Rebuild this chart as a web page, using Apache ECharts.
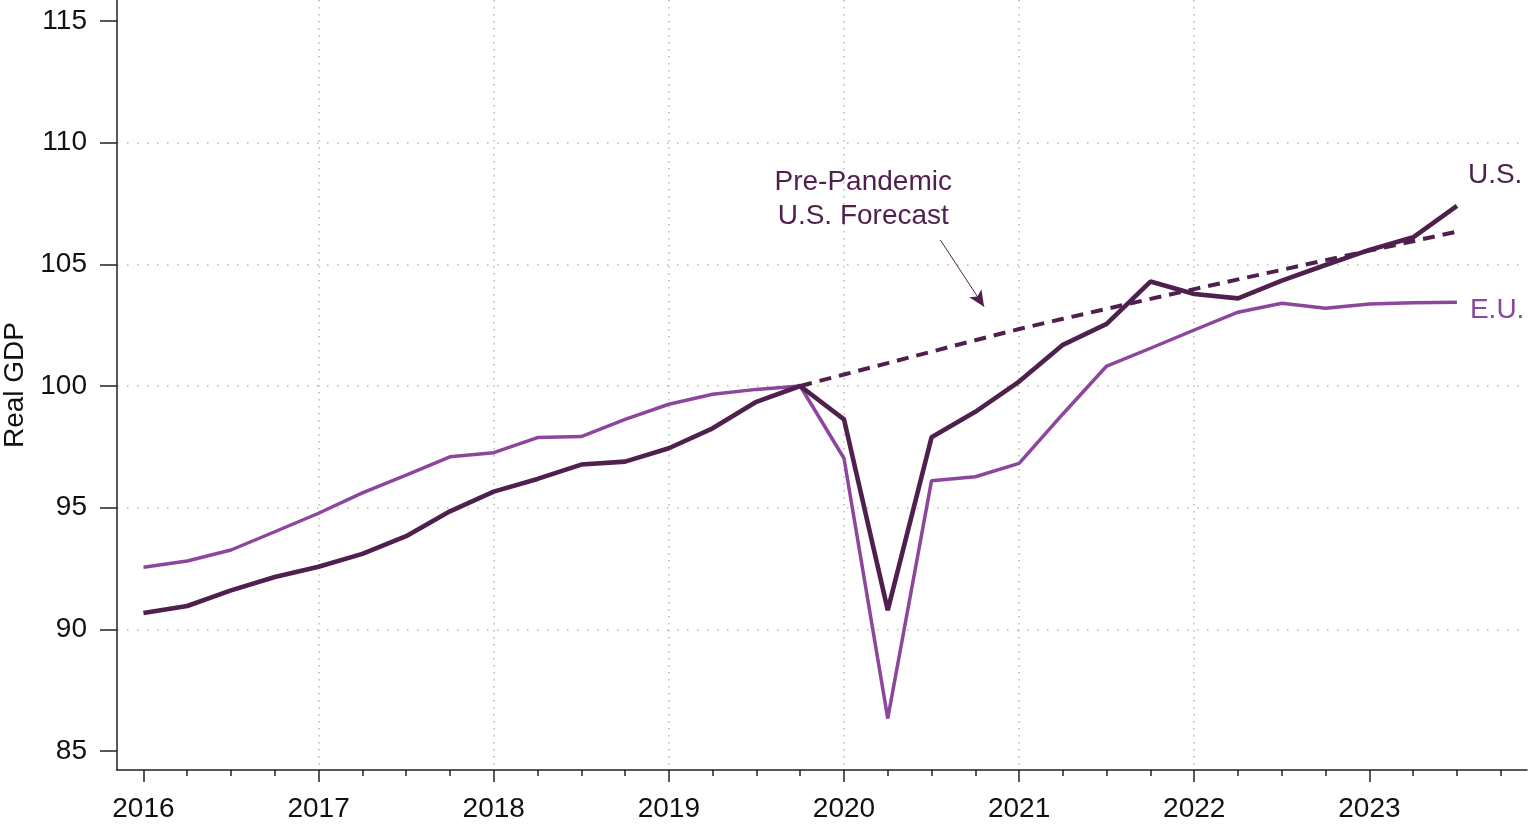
<!DOCTYPE html>
<html>
<head>
<meta charset="utf-8">
<script src="https://cdn.jsdelivr.net/npm/echarts@6/dist/echarts.min.js"></script>
<style>
  html, body { margin: 0; padding: 0; background: #fff; }
  #chart { width: 1529px; height: 825px; }
</style>
</head>
<body>
<div id="chart"></div>
<script>
// quarters 2016Q1 .. 2023Q3, plotted at year + (q-1)/4
const quarters = [];
for (let y = 2016; y <= 2023; y++) {
  for (let q = 1; q <= 4; q++) {
    if (y === 2023 && q === 4) break;
    quarters.push(y + (q - 1) / 4);
  }
}

const usGdp = [90.67, 90.96, 91.6, 92.15, 92.57, 93.1, 93.83, 94.85, 95.66, 96.18,
  96.77, 96.89, 97.44, 98.26, 99.35, 100.0, 98.63, 90.79, 97.89, 98.94,
  100.18, 101.69, 102.55, 104.29, 103.78, 103.6, 104.33, 104.97, 105.59, 106.11, 107.4];

const euGdp = [92.55, 92.81, 93.26, 94.01, 94.77, 95.61, 96.34, 97.09, 97.26, 97.88,
  97.92, 98.63, 99.25, 99.66, 99.86, 100.0, 97.03, 86.34, 96.11, 96.27,
  96.82, 98.85, 100.82, 101.55, 102.3, 103.03, 103.4, 103.19, 103.37, 103.42, 103.44];

// pre-pandemic forecast, from 2019Q4 on
const forecastStart = 15;
const usForecast = [100.0, 100.47, 100.94, 101.41, 101.88, 102.34, 102.76, 103.17,
  103.58, 103.98, 104.38, 104.77, 105.17, 105.56, 105.95, 106.34];

const yearTicks = [2016, 2017, 2018, 2019, 2020, 2021, 2022, 2023];
const quarterTicks = [2016.25, 2016.5, 2016.75, 2017.25, 2017.5, 2017.75, 2018.25, 2018.5, 2018.75,
  2019.25, 2019.5, 2019.75, 2020.25, 2020.5, 2020.75, 2021.25, 2021.5, 2021.75,
  2022.25, 2022.5, 2022.75, 2023.25, 2023.5, 2023.75];
const yTicks = [85, 90, 95, 100, 105, 110, 115];

const noteText = ['Pre-Pandemic', 'U.S. Forecast'];
const notePos = [2020.11, 107.69];
const arrowFrom = [2020.55, 106.0];
const arrowTo = [2020.8, 103.26];

const US_COL = '#4f1f4e';
const EU_COL = '#8c479c';
const FONT = '"Liberation Sans", Arial, sans-serif';
const FS = 28;

const pair = (vals, off) => vals.map((v, i) => [quarters[i + off], v]);

const chart = echarts.init(document.getElementById('chart'), null, { renderer: 'canvas' });

const xBase = {
  type: 'value', min: 2015.849, max: 2023.9, position: 'bottom', gridIndex: 0,
};

chart.setOption({
  animation: false,
  grid: { left: 117, right: 2, top: 0, bottom: 55, containLabel: false, outerBoundsMode: 'none' },
  xAxis: [
    Object.assign({}, xBase, {
      axisLine: { show: true, onZero: false, lineStyle: { color: '#222', width: 1.5 } },
      axisTick: { show: true, customValues: yearTicks, length: 12, lineStyle: { color: '#222', width: 1.5 } },
      axisLabel: {
        customValues: yearTicks, margin: 25, fontSize: FS, fontFamily: FONT, color: '#111',
        formatter: v => String(Math.round(v)),
      },
      splitLine: {
        show: true, showMinLine: false, showMaxLine: false,
        lineStyle: { color: '#b8b8b8', width: 1.5, type: [1.5, 5.5] },
      },
    }),
    Object.assign({}, xBase, {
      axisLine: { show: false },
      axisTick: { show: true, customValues: quarterTicks, length: 6, lineStyle: { color: '#222', width: 1.5 } },
      axisLabel: { show: false },
      splitLine: { show: false },
    }),
  ],
  yAxis: {
    type: 'value', min: 84.22, max: 115.86,
    name: 'Real GDP', nameLocation: 'middle', nameRotate: 90, nameGap: 86,
    nameTextStyle: { fontSize: FS, fontFamily: FONT, color: '#111' },
    axisLine: { show: true, onZero: false, lineStyle: { color: '#222', width: 1.5 } },
    axisTick: { show: true, customValues: yTicks, length: 17, lineStyle: { color: '#222', width: 1.5 } },
    axisLabel: { customValues: yTicks, margin: 30, fontSize: FS, fontFamily: FONT, color: '#111' },
    splitLine: {
      show: true, showMinLine: false, showMaxLine: false,
      lineStyle: { color: '#b8b8b8', width: 1.5, type: [1.5, 8.5] },
    },
  },
  series: [
    {
      name: 'E.U.', type: 'line', data: pair(euGdp, 0), showSymbol: false, symbol: 'none',
      lineStyle: { color: EU_COL, width: 3.5 }, z: 3,
      endLabel: {
        show: true, formatter: 'E.U.', offset: [5, 8], fontSize: FS, fontFamily: FONT, color: EU_COL,
      },
    },
    {
      name: 'Forecast', type: 'line', data: pair(usForecast, forecastStart), showSymbol: false, symbol: 'none',
      lineStyle: { color: US_COL, width: 4, type: [12, 8] }, z: 4,
      markLine: {
        silent: true, symbol: ['none', 'arrow'], symbolSize: [11, 16], animation: false,
        label: { show: false },
        lineStyle: { color: US_COL, width: 1, type: 'solid' },
        data: [[{ coord: arrowFrom }, { coord: arrowTo }]],
      },
      markPoint: {
        silent: true, symbol: 'circle', symbolSize: 0, animation: false,
        data: [{ coord: notePos }],
        label: {
          show: true, position: 'inside', formatter: noteText.join('\n'),
          fontSize: FS, lineHeight: 34, fontFamily: FONT, color: US_COL, align: 'center',
        },
      },
    },
    {
      name: 'U.S.', type: 'line', data: pair(usGdp, 0), showSymbol: false, symbol: 'none',
      lineStyle: { color: US_COL, width: 4.6 }, z: 5,
      endLabel: {
        show: true, formatter: 'U.S.', offset: [3, -31], fontSize: FS, fontFamily: FONT, color: US_COL,
      },
    },
  ],
});
</script>
</body>
</html>
